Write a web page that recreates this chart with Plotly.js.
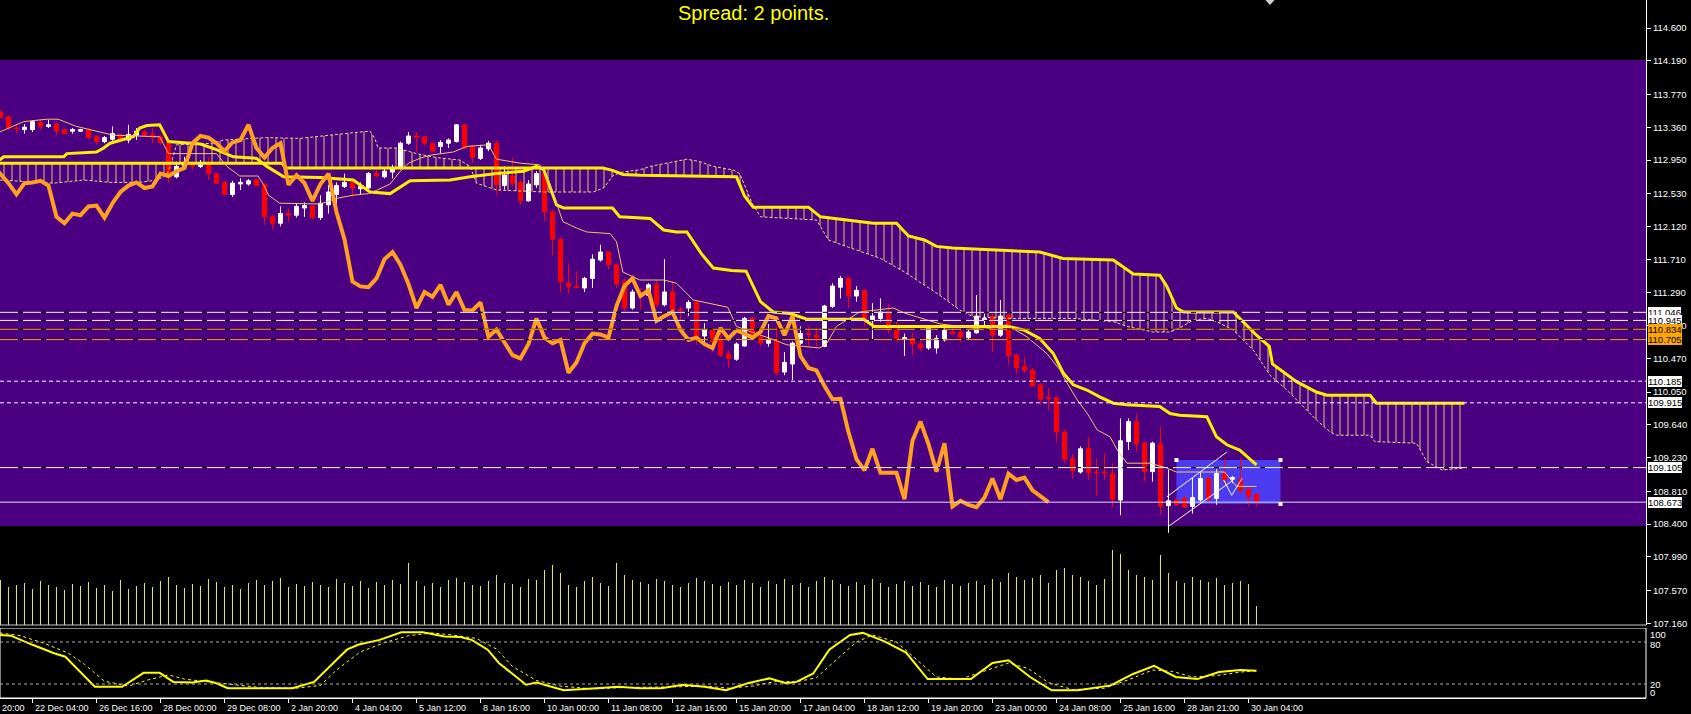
<!DOCTYPE html>
<html><head><meta charset="utf-8">
<script src="https://cdn.plot.ly/plotly-3.0.1.min.js"></script>
<style>html,body{margin:0;padding:0;background:#000;overflow:hidden}#chart{width:1691px;height:714px}</style>
</head><body><div id="chart"></div>
<script>
// ---------- DATA ----------
const firstBar = 4; // bar index of first candle shown
const openP = [
113.55,113.49,113.35,113.33,113.33,113.42,113.37,113.40,113.33,113.31,
113.31,113.325,113.24,113.18,113.21,113.27,113.20,113.26,113.30,113.27,
113.24,113.17,112.74,112.87,112.90,112.87,112.89,112.78,112.67,112.52,
112.65,112.65,112.70,112.65,112.24,112.16,112.28,112.26,112.35,112.375,
112.23,112.39,112.52,112.62,112.67,112.59,112.60,112.78,112.74,112.80,
112.85,113.16,113.25,113.24,113.16,113.12,113.16,113.18,113.39,113.12,
112.97,113.09,113.16,112.63,112.75,112.67,112.44,112.64,112.78,112.30,
111.96,111.41,111.37,111.35,111.47,111.70,111.80,111.64,111.43,111.10,
111.28,111.26,111.39,111.14,111.30,111.08,111.10,111.17,110.75,110.825,
110.70,110.525,110.46,110.625,110.97,110.74,110.66,110.70,110.30,110.40,
110.66,110.78,110.76,110.62,111.12,111.36,111.47,111.25,111.32,110.94,
110.97,111.05,110.85,110.71,110.72,110.65,110.60,110.60,110.70,110.80,
110.80,110.73,110.79,110.95,111.00,110.76,111.01,110.51,110.37,110.325,
110.14,109.98,109.98,109.55,109.22,109.05,109.35,109.05,109.05,109.03,
108.70,109.43,109.68,109.41,109.055,109.40,108.63,108.70,108.72,108.62,
108.70,108.97,108.72,109.03,108.96,108.96,108.83,108.77];
const highP = [
113.57,113.51,113.38,113.40,113.45,113.45,113.45,113.41,113.34,113.35,
113.34,113.35,113.26,113.25,113.37,113.28,113.39,113.35,113.325,113.35,
113.26,113.18,112.93,112.99,112.93,112.95,112.99,112.79,112.69,112.69,
112.72,112.71,112.71,112.66,112.27,112.37,112.34,112.41,112.42,112.39,
112.51,112.64,112.67,112.78,112.69,112.67,112.80,112.87,112.84,112.89,
113.18,113.30,113.30,113.25,113.17,113.20,113.22,113.40,113.40,113.14,
113.14,113.19,113.20,112.87,112.98,112.70,112.70,112.81,112.80,112.33,
111.98,111.66,111.56,111.49,111.77,111.89,111.80,111.66,111.47,111.33,
111.35,111.41,111.45,111.71,111.43,111.12,111.20,111.20,110.91,110.85,
110.80,110.575,110.67,110.99,110.99,110.76,110.90,110.87,110.55,110.68,
110.87,110.87,110.85,111.14,111.41,111.50,111.49,111.375,111.33,111.16,
111.22,111.15,110.93,110.78,110.79,110.71,110.87,110.76,110.87,110.89,
110.89,110.825,111.26,111.03,111.025,111.20,111.03,110.53,110.49,110.35,
110.16,110.10,109.99,109.575,109.275,109.37,109.49,109.22,109.28,109.16,
109.72,109.72,109.78,109.43,109.43,109.62,108.74,108.72,108.76,108.98,
109.05,109.00,109.09,109.22,109.00,109.22,108.87,108.79];
const lowP = [
113.47,113.325,113.28,113.28,113.30,113.325,113.35,113.26,113.28,113.28,
113.30,113.21,113.14,113.16,113.19,113.17,113.16,113.20,113.24,113.16,
113.14,112.67,112.72,112.84,112.83,112.85,112.70,112.65,112.51,112.49,
112.575,112.63,112.63,112.14,112.08,112.12,112.17,112.23,112.24,112.21,
112.20,112.28,112.39,112.60,112.49,112.52,112.59,112.73,112.72,112.72,
112.83,113.14,113.05,113.13,113.05,113.03,113.10,113.17,113.09,112.91,
112.95,113.06,112.51,112.58,112.62,112.39,112.43,112.60,112.18,111.76,
111.30,111.28,111.35,111.30,111.35,111.68,111.58,111.35,111.06,111.08,
111.075,111.24,111.12,111.12,111.05,110.95,111.00,110.64,110.66,110.55,
110.49,110.35,110.44,110.617,110.72,110.62,110.617,110.26,110.26,110.20,
110.64,110.62,110.62,110.61,111.10,111.22,111.10,111.18,110.87,110.70,
110.93,110.78,110.68,110.50,110.51,110.56,110.575,110.53,110.68,110.76,
110.67,110.71,110.78,110.87,110.55,110.74,110.39,110.275,110.29,110.12,
109.90,109.825,109.42,109.16,108.97,109.03,108.95,108.76,108.95,108.61,
108.51,109.325,109.30,108.93,108.93,108.51,108.58,108.625,108.60,108.53,
108.68,108.66,108.64,108.90,108.91,108.78,108.625,108.625];
const closeP = [
113.48,113.35,113.34,113.36,113.43,113.37,113.39,113.31,113.28,113.33,
113.33,113.23,113.18,113.23,113.28,113.20,113.27,113.31,113.26,113.23,
113.17,112.74,112.87,112.92,112.875,112.89,112.78,112.66,112.52,112.66,
112.67,112.69,112.63,112.24,112.16,112.28,112.26,112.37,112.38,112.23,
112.41,112.55,112.63,112.67,112.60,112.62,112.78,112.75,112.81,112.85,
113.16,113.25,113.23,113.16,113.06,113.17,113.20,113.39,113.10,112.98,
113.10,113.16,112.64,112.76,112.66,112.44,112.65,112.78,112.30,111.96,
111.43,111.37,111.36,111.47,111.71,111.80,111.64,111.40,111.10,111.30,
111.24,111.39,111.14,111.30,111.075,111.07,111.17,110.74,110.83,110.68,
110.51,110.47,110.65,110.97,110.73,110.66,110.70,110.29,110.42,110.66,
110.78,110.77,110.73,111.125,111.375,111.47,111.25,111.32,110.94,111.00,
111.05,110.825,110.70,110.73,110.65,110.60,110.85,110.72,110.82,110.78,
110.73,110.80,111.00,110.97,110.76,111.00,110.50,110.35,110.32,110.125,
109.96,109.965,109.55,109.21,109.07,109.34,109.04,109.04,109.04,108.71,
109.44,109.68,109.40,109.055,109.41,108.62,108.69,108.64,108.61,108.73,
108.97,108.71,109.03,108.95,108.98,108.82,108.74,108.673];
const volume = [
45,38,40,42,36,44,40,38,35,41,
39,43,37,40,34,45,36,39,42,38,
44,48,40,37,41,39,46,43,38,40,
36,42,45,40,44,47,38,41,39,43,
40,38,46,42,39,44,37,43,40,45,
41,62,44,39,42,38,45,47,43,40,
39,44,50,42,41,38,46,45,55,60,
52,40,38,44,48,42,39,62,50,45,
43,41,46,44,40,38,42,47,44,41,
39,43,40,45,42,38,44,41,46,40,
42,38,44,48,45,41,39,43,40,46,
42,38,41,44,39,43,40,38,45,41,
39,42,44,40,46,43,52,48,45,47,
50,42,55,57,50,48,44,40,46,75,
71,55,50,48,45,70,52,44,42,48,
45,43,47,40,42,44,41,19];
const chikouShift = 26;

const tenkanX = [3.9,6.9,9.8,11.2,13.5,16.4,18.1,23.9,25,31,32.3,33.9,36.2,36.9,37.5,38.9,44,46,48.1,50,51,52.7,53.9,55,56.4,57.7,60.6,62.3,65,66,69,71.4,72.3,73.3,74.3,76,77.3,80.2,81,81.8,83.9,86.9,88.5,90.6,93.1,94.9,96,97.3,100.2,102.3,104.4,106.4,107.3,108.5,111.4,115.6,117.2,119.3,121.5,124,126.8,129.8,132.3,134.8,136.4,137.1,138.6,139.8,141.1,142.7,143.6,144.8,147.7,149.8,151,154.3,157,158.5,161];
const tenkanY = [113.30,113.43,113.46,113.46,113.37,113.30,113.26,113.24,113.03,113.03,112.87,112.75,112.75,112.64,112.51,112.41,112.40,112.47,112.51,112.53,112.57,112.65,112.80,112.91,112.97,113.01,113.05,113.12,113.14,112.96,112.91,112.89,112.76,112.47,112.18,112.10,112.05,112.03,111.93,111.55,111.45,111.45,111.41,111.20,111.15,111.11,110.87,110.82,110.72,110.64,110.62,110.60,110.66,110.87,111.05,111.10,111.03,110.97,110.90,110.87,110.83,110.89,110.74,110.53,110.33,110.20,109.95,109.79,109.575,109.49,109.325,109.16,109.16,109.10,109.05,109.05,109.05,108.87,108.87];

const kijunX = [3.9,4.4,11.9,12.3,16,16.9,17.7,20.6,21.4,22.3,23.9,25,29,31,33.1,36,37.3,39.4,44,48.1,50.2,52.7,55.2,60.2,62.7,66,69.4,71,71.9,73.5,74.4,80.5,81.4,85.2,86.9,88.5,89.8,91.6,93.1,95.4,97.2,99,100.6,102.7,104.8,111.9,113.2,130,131.9,133.9,135.6,136.9,138.1,139.8,141.4,143.1,144.8,148.9,150.2,151.4,154.8,156,157.3,158.9,161];
const kijunY = [112.95,112.99,112.99,113.03,113.05,113.10,113.16,113.24,113.35,113.38,113.39,113.18,113.15,113.08,112.99,112.97,112.87,112.74,112.73,112.70,112.55,112.53,112.69,112.70,112.74,112.78,112.81,112.87,112.83,112.39,112.35,112.35,112.24,112.22,112.075,112.05,112.05,111.78,111.60,111.57,111.56,111.18,111.05,111.03,110.96,110.96,110.87,110.87,110.825,110.72,110.53,110.28,110.14,110.075,109.99,109.91,109.89,109.87,109.78,109.76,109.74,109.49,109.39,109.325,109.14];

const spanAX = [3.9,8,10.6,14.4,17.7,21.4,23.5,24.8,25.4,26,30.6,31.9,37.3,41.4,44.8,48.9,50.2,50.8,51.2,53.5,56,58.5,61.4,62.7,63.5,66,71.9,78.1,79.4,80.6,81.8,84,85.2,88.1,89.8,91.4,93.1,95.6,96.4,98,99,106,107.5,110,114,117,120,121.4,123.9,125.6,129.8,138.1,140.6,143.1,144.8,148.1,150.2,151.4,153.1,154.8,156,158.1,160.6,162.7,164.8,166,168.5,170.2,171,175.2,175.8,181,182.3,184.2,187];
const spanAY = [112.70,112.67,112.66,112.70,112.67,112.67,112.70,112.76,112.93,113.14,113.16,113.20,113.23,113.22,113.26,113.30,113.31,113.22,113.10,113.10,113.03,112.98,112.95,112.87,112.66,112.575,112.55,112.55,112.60,112.76,112.80,112.83,112.87,112.93,112.96,112.93,112.87,112.825,112.78,112.40,112.24,112.20,111.95,111.86,111.72,111.55,111.35,111.26,111.075,110.99,110.97,110.97,110.95,110.93,110.87,110.80,110.80,110.85,110.95,110.97,110.93,110.825,110.575,110.26,110.075,109.95,109.70,109.55,109.51,109.51,109.43,109.41,109.18,109.075,109.10];

const spanBX = [3.9,39.2,39.6,79.3,80.5,81.8,84,96,97,98.1,105,106.5,113.1,116,117.5,119.5,121,123,133.9,136.8,139.9,143.1,145.6,148.9,149.8,151,151.9,158.1,158.9,161,162.6,163,166,168.5,169.8,175.2,176,187];
const spanBY = [112.91,112.91,112.85,112.85,112.82,112.77,112.76,112.74,112.50,112.36,112.36,112.24,112.16,112.16,112.00,111.95,111.87,111.85,111.80,111.72,111.71,111.70,111.525,111.51,111.37,111.10,111.05,111.05,110.97,110.76,110.62,110.40,110.18,110.05,110.01,110.01,109.91,109.91];

const stochX = [3.9,5.3,8,10.7,12.1,15.8,19.2,21.9,23.9,25.6,28,29.7,31,32.4,35.8,40.5,43.2,47.3,48.7,51.4,54.1,56.8,59.5,61.5,62.9,64.9,66.3,69.7,71,74.4,78.5,81.2,83.9,86.6,89.3,92,94.7,97.4,100.1,102.2,103.5,105.6,107.6,110.2,111.8,114.5,117.2,119.9,122.6,125.3,128,130,132.7,135.4,138.7,142.8,145.5,148.2,150.9,153.6,156.3,159,161];
const stochY = [90,89,76,64,59,16,16,36,36,23,22,25,21,14,14,14,23,69,76,83,94,94,88,87,83,69,50,19,22,11,14,16,14,14,19,16,11,21,28,21,23,35,69,90,93,81,65,27,27,27,50,54,30,11,11,18,34,46,30,27,37,40,39];
const signalX = [3.9,6.5,9.5,12.5,14.5,17,20,22.5,25,27,30,33,36.5,41,44,46,49,52,55,58,60.5,63.5,66,68,71,74,78,82,85.5,88.5,92,95,98,101,103.5,106,108.5,111,113,116,118.5,121,124,127,130,132.5,135,138,142,145,148,150.5,153,156,159,161];
const signalY = [93,89,78,64,48,24,17,26,33,27,23,19,15,14,18,40,66,79,89,93,90,85,70,45,25,17,13,15,15,16,17,14,17,24,23,29,55,80,90,80,55,30,27,38,50,42,22,12,14,26,40,38,30,32,37,39];

// time-axis labels; the first one is only partly on screen in the original ("20:00")
const dateLabels = ['20:00','22 Dec 04:00','26 Dec 16:00','28 Dec 00:00','29 Dec 08:00','2 Jan 20:00','4 Jan 04:00','5 Jan 12:00','8 Jan 16:00','10 Jan 00:00','11 Jan 08:00','12 Jan 16:00','15 Jan 20:00','17 Jan 04:00','18 Jan 12:00','19 Jan 20:00','23 Jan 00:00','24 Jan 08:00','25 Jan 16:00','28 Jan 21:00','30 Jan 04:00'];
const barsPerLabel = 8;
const priceTicks = [114.600,114.190,113.770,113.360,112.950,112.530,112.120,111.710,111.290,110.880,110.470,110.050,109.640,109.230,108.810,108.400,107.990,107.570,107.160];
const whiteLevels = [111.046,110.945,109.105];
const orangeLevels = [110.834,110.705];
const dottedLevels = [110.185,109.915];
const bidLevel = 108.673;
const stochLevels = [80,20];
const stochLabels = ['100','80','20','0'];
const zoneTop = 114.2, zoneBottom = 108.375;
const rectX = [151,164], rectY = [108.65,109.2];
const chanUpperX = [149.8,157.3], chanUpperY = [108.74,109.30];
const chanLowerX = [150,158.1], chanLowerY = [108.37,108.95];
const chanVertX = [150,150], chanVertY = [109.08,108.29];
const zigX = [156.9,157.9,159.2], zigY = [108.95,108.76,108.97];
const spreadText = 'Spread: 2 points.';

// ---------- BUILD ----------
const X0 = 3.94, X1 = 209.69;
const FONT = 'Liberation Sans, Arial, sans-serif';
const barIdx = openP.map((_, k) => firstBar + k);
const chikouX = barIdx.map(b => b - chikouShift);

const vx = [], vy = [];
barIdx.forEach((b, k) => { vx.push(b, b, null); vy.push(0, volume[k], null); });

const traces = [
  {type:'scatter', mode:'lines', x:vx, y:vy, xaxis:'x', yaxis:'y3', line:{color:'#e8e878', width:1}, hoverinfo:'skip'},
  {type:'candlestick', x:barIdx, open:openP, high:highP, low:lowP, close:closeP, xaxis:'x', yaxis:'y',
   increasing:{line:{color:'#ffffff', width:1}, fillcolor:'#ffffff'},
   decreasing:{line:{color:'#ff0000', width:1}, fillcolor:'#ff0000'},
   whiskerwidth:0, hoverinfo:'skip'},
  {type:'scatter', mode:'lines', x:spanAX, y:spanAY, xaxis:'x', yaxis:'y', line:{color:'#eedc80', width:1, dash:'3px,2px'}, hoverinfo:'skip'},
  {type:'scatter', mode:'lines', x:spanBX, y:spanBY, xaxis:'x', yaxis:'y', fill:'tonexty',
   fillpattern:{shape:'|', size:8, solidity:0.14, fgcolor:'#e8d070', fgopacity:0.85, bgcolor:'rgba(0,0,0,0)'},
   line:{color:'#ffee00', width:3}, hoverinfo:'skip'},
  {type:'scatter', mode:'lines', x:kijunX, y:kijunY, xaxis:'x', yaxis:'y', line:{color:'#ffee00', width:3}, hoverinfo:'skip'},
  {type:'scatter', mode:'lines', x:tenkanX, y:tenkanY, xaxis:'x', yaxis:'y', line:{color:'#f2c46a', width:1}, hoverinfo:'skip'},
  {type:'scatter', mode:'lines', x:chikouX, y:closeP, xaxis:'x', yaxis:'y', line:{color:'#ffa020', width:4}, hoverinfo:'skip'},
  {type:'scatter', mode:'lines', x:zigX, y:zigY, xaxis:'x', yaxis:'y', line:{color:'#ffffff', width:1}, hoverinfo:'skip'},
  {type:'scatter', mode:'markers', x:[rectX[0], rectX[1], rectX[1]], y:[rectY[1], rectY[1], rectY[0]], xaxis:'x', yaxis:'y',
   marker:{symbol:'square', size:4, color:'#ffffff'}, hoverinfo:'skip'},
  {type:'scatter', mode:'lines', x:signalX, y:signalY, xaxis:'x', yaxis:'y2', line:{color:'#ffff00', width:1, dash:'3px,3px'}, hoverinfo:'skip'},
  {type:'scatter', mode:'lines', x:stochX, y:stochY, xaxis:'x', yaxis:'y2', line:{color:'#ffff00', width:2}, hoverinfo:'skip'}
];

const shapes = [];
shapes.push({type:'rect', xref:'paper', x0:0, x1:1, yref:'y', y0:zoneBottom, y1:zoneTop, fillcolor:'#4b0082', line:{width:0}, layer:'below'});
shapes.push({type:'rect', xref:'x', x0:rectX[0], x1:rectX[1], yref:'y', y0:rectY[0], y1:rectY[1], fillcolor:'#4b3cf2', line:{width:0}, layer:'below'});
function hline(y, color, dash, w) {
  return {type:'line', xref:'paper', x0:0, x1:1, yref:'y', y0:y, y1:y, line:{color:color, width:w||1, dash:dash||'solid'}, layer:'above'};
}
whiteLevels.forEach(v => { shapes.push(hline(v, '#000000')); shapes.push(hline(v, '#ffffff', '18px,5px')); });
orangeLevels.forEach(v => { shapes.push(hline(v, '#000000')); shapes.push(hline(v, '#ffa500', '18px,5px')); });
dottedLevels.forEach(v => shapes.push(hline(v, '#ffffff', '4px,3px')));
shapes.push(hline(bidLevel, '#dcdcf0'));
[[chanUpperX, chanUpperY],[chanLowerX, chanLowerY],[chanVertX, chanVertY]].forEach(([xs, ys]) =>
  shapes.push({type:'line', xref:'x', yref:'y', x0:xs[0], x1:xs[1], y0:ys[0], y1:ys[1], line:{color:'#ffffff', width:1}, layer:'above'}));
// window separators / stochastic frame
shapes.push({type:'line', xref:'paper', x0:0, x1:1, yref:'paper', y0:1-625/698, y1:1-625/698, line:{color:'#c8c8c8', width:1}});
shapes.push({type:'rect', xref:'paper', x0:0, x1:1, yref:'y2', y0:0, y1:100, line:{color:'#ffffff', width:1}, fillcolor:'rgba(0,0,0,0)'});
stochLevels.forEach(v => shapes.push({type:'line', xref:'paper', x0:0, x1:1, yref:'y2', y0:v, y1:v, line:{color:'#b0b0b0', width:1, dash:'3px,3px'}}));
// chart shift marker
shapes.push({type:'path', xref:'paper', yref:'paper', path:'M 0.7688 1 L 0.7743 1 L 0.77155 0.9928 Z', fillcolor:'#d0d0d0', line:{width:0}});

const annotations = [];
annotations.push({xref:'paper', yref:'paper', x:676/1646, y:1-13/698, xanchor:'left', yanchor:'middle', text:spreadText, showarrow:false,
  font:{family:FONT, size:20, color:'#ffff00'}});
const boxLabels = [
  [111.046,'#ffffff'],[110.945,'#ffffff'],[110.834,'#ffa500'],[110.705,'#ffa500'],
  [110.185,'#ffffff'],[109.915,'#ffffff'],[109.105,'#ffffff'],[bidLevel,'#ffffff']];
boxLabels.forEach(([v, bg]) => annotations.push({xref:'paper', x:1, xanchor:'left', xshift:2, yref:'y', y:v, yanchor:'middle',
  text:v.toFixed(3), showarrow:false, bgcolor:bg, borderpad:0, borderwidth:0, font:{family:FONT, size:9.5, color:'#000000'}}));
const stochLabelPx = [634, 644, 684, 692];
stochLabels.forEach((t, k) => annotations.push({xref:'paper', x:1, xanchor:'left', xshift:2, yref:'paper', y:1-stochLabelPx[k]/698,
  yanchor:'middle', text:t, showarrow:false, font:{family:FONT, size:9.5, color:'#ffffff'}}));
dateLabels.forEach((t, k) => {
  const xi = k * barsPerLabel;
  const a = {yref:'paper', y:1-708/698, yanchor:'middle', xanchor:'left', text:t, showarrow:false, font:{family:FONT, size:9, color:'#ffffff'}};
  if (xi >= X0) { a.xref = 'x'; a.x = xi; a.xshift = 1; }
  else { a.xref = 'paper'; a.x = 0; a.xshift = 0; }
  annotations.push(a);
});

const layout = {
  width:1691, height:714, margin:{l:0, r:45, t:0, b:16, pad:0},
  paper_bgcolor:'#000000', plot_bgcolor:'rgba(0,0,0,0)', showlegend:false,
  xaxis:{range:[X0, X1], anchor:'y2', showgrid:false, zeroline:false, showline:true, linecolor:'#ffffff', linewidth:1,
    ticks:'outside', ticklen:4, tickcolor:'#ffffff', tickvals:dateLabels.map((_, k) => k * barsPerLabel), showticklabels:false,
    rangeslider:{visible:false}, fixedrange:true},
  yaxis:{domain:[1-625/698, 1], range:[114.95-625/80, 114.95], side:'right', anchor:'x', showgrid:false, zeroline:false,
    showline:true, linecolor:'#ffffff', linewidth:1, ticks:'outside', ticklen:4, tickcolor:'#ffffff',
    tickvals:priceTicks, ticktext:priceTicks.map(v => v.toFixed(3)), tickfont:{family:FONT, size:9.5, color:'#ffffff'}, fixedrange:true},
  yaxis2:{domain:[0, 70/698], range:[0, 100], anchor:'x', showgrid:false, zeroline:false, showticklabels:false, showline:false, fixedrange:true},
  yaxis3:{domain:[1-625/698, 1-540/698], range:[0, 85], anchor:'x', visible:false, fixedrange:true},
  shapes:shapes, annotations:annotations
};
Plotly.newPlot('chart', traces, layout, {displayModeBar:false, staticPlot:true});
</script></body></html>
